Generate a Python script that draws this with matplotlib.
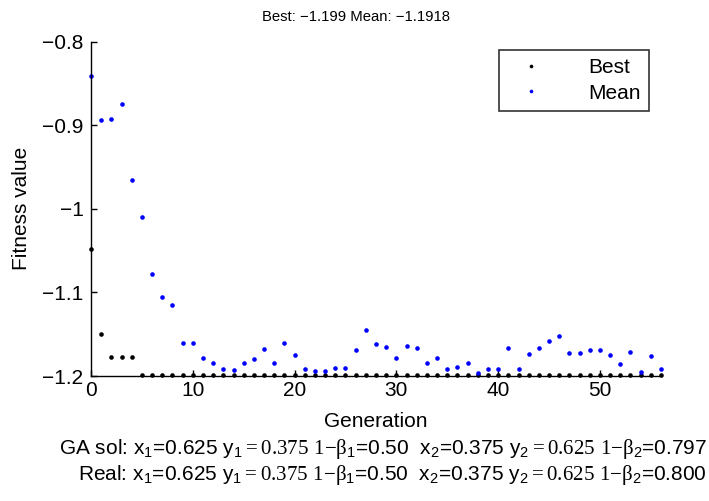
import matplotlib
matplotlib.use("Agg")
import matplotlib.pyplot as plt

plt.rcParams['font.family'] = ['Liberation Sans', 'DejaVu Sans']
plt.rcParams['mathtext.fontset'] = 'custom'
plt.rcParams['mathtext.rm'] = 'Liberation Serif'
plt.rcParams['mathtext.sf'] = 'Liberation Sans'
plt.rcParams['mathtext.it'] = 'Liberation Sans'
plt.rcParams['mathtext.default'] = 'regular'

# data
generations = list(range(57))
best = [-1.048, -1.150, -1.177, -1.177, -1.177] + [-1.199] * 52
mean = [-0.841, -0.894, -0.892, -0.875, -0.966, -1.010, -1.078, -1.105, -1.115, -1.160,
        -1.161, -1.178, -1.184, -1.192, -1.193, -1.185, -1.180, -1.168, -1.184, -1.161,
        -1.175, -1.192, -1.194, -1.194, -1.191, -1.190, -1.169, -1.145, -1.162, -1.165,
        -1.178, -1.164, -1.166, -1.184, -1.178, -1.192, -1.189, -1.185, -1.197, -1.192,
        -1.192, -1.166, -1.192, -1.174, -1.166, -1.158, -1.152, -1.173, -1.172, -1.169,
        -1.169, -1.175, -1.186, -1.171, -1.195, -1.176, -1.192]
xticks = [0, 10, 20, 30, 40, 50]
yticks = [-0.8, -0.9, -1.0, -1.1, -1.2]
ylabels = ['\u22120.8', '\u22120.9', '\u22121', '\u22121.1', '\u22121.2']

fig = plt.figure(figsize=(7.09, 5.01), dpi=100)
ax = fig.add_axes([0.1284, 0.2495, 0.8039, 0.6673])

ax.plot(generations, best, 'o', color='black', ms=3.3, mec='none', label='Best', clip_on=False)
ax.plot(generations, mean, 'o', color='blue', ms=3.3, mec='none', label='Mean', clip_on=False)

ax.set_xlim(0, 56)
ax.set_ylim(-1.2, -0.8)
ax.set_xticks(xticks)
ax.set_yticks(yticks)
ax.set_yticklabels(ylabels)
ax.spines['top'].set_visible(False)
ax.spines['right'].set_visible(False)
for s in ['left', 'bottom']:
    ax.spines[s].set_linewidth(1.0)
ax.tick_params(direction='in', length=4, width=1, labelsize=15)
ax.tick_params(axis='x', pad=3.5)
ax.tick_params(axis='y', pad=5.5)

ax.set_xlabel('Generation', fontsize=15, labelpad=9)
ax.set_ylabel('Fitness value', fontsize=15, labelpad=8)
fig.text(356 / 709, 1 - 17 / 501, 'Best: \u22121.199 Mean: \u22121.1918',
         fontsize=10.7, ha='center', va='center')

leg = ax.legend(loc='upper right', bbox_to_anchor=(649 / 709, 1 - 50 / 501),
                bbox_transform=fig.transFigure, fontsize=15, frameon=True,
                fancybox=False, edgecolor='black', handlelength=2.3,
                handletextpad=1.6, borderpad=0.4, labelspacing=0.3, markerscale=0.8,
                borderaxespad=0)
leg.get_frame().set_linewidth(1.2)

line1 = (r"GA sol: x$_1$=0.625 y$_1\mathrm{{=}0.375\ 1{−}\beta}_1$=0.50  "
         r"x$_2$=0.375 y$_2\mathrm{{=}0.625\ 1{−}\beta}_2$=0.797")
line2 = (r"Real: x$_1$=0.625 y$_1\mathrm{{=}0.375\ 1{−}\beta}_1$=0.50  "
         r"x$_2$=0.375 y$_2\mathrm{{=}0.625\ 1{−}\beta}_2$=0.800")
fig.text(707 / 709, 1 - 449 / 501, line1, ha='right', va='center', fontsize=15)
fig.text(707 / 709, 1 - 475 / 501, line2, ha='right', va='center', fontsize=15)

fig.savefig('out.png', dpi=100)
